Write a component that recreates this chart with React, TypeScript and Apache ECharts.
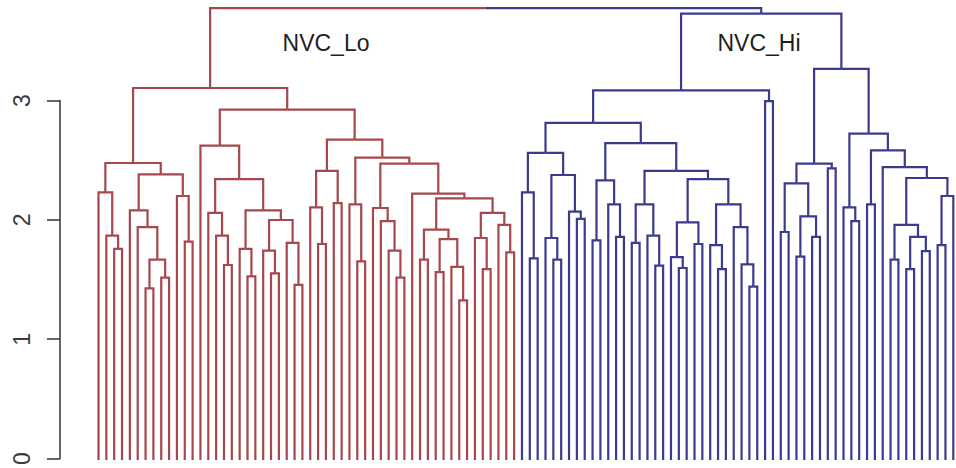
import React, { useEffect, useRef } from "react";
import * as echarts from "echarts";

type Tree = number | [number, Tree, Tree];

// Leaves are numbered 0..109 in plotting order; an internal node is [mergeHeight, left, right].
const loLeftBranch: Tree = [2.475,
  [2.23, 0, [1.87, 1, [1.76, 2, 3]]],
  [2.38,
    [2.08, 4, [1.94, 5, [1.67, [1.43, 6, 7], [1.52, 8, 9]]]],
    [2.2, 10, [1.82, 11, 12]]]];

const loMidBranch: Tree = [2.62, 13,
  [2.34,
    [2.06, 14, [1.87, 15, [1.625, 16, 17]]],
    [2.08,
      [1.76, 18, [1.53, 19, 20]],
      [2.0, [1.745, 21, [1.555, 22, 23]], [1.81, 24, [1.46, 25, 26]]]]]];

const loRightBranch: Tree = [2.67,
  [2.41, [2.105, 27, [1.8, 28, 29]], [2.14, 30, 31]],
  [2.52,
    [2.13, 32, [1.655, 33, 34]],
    [2.47,
      [2.1, 35, [1.99, 36, [1.745, 37, [1.52, 38, 39]]]],
      [2.22, 40,
        [2.18,
          [1.92, [1.67, 41, 42], [1.84, [1.565, 43, 44], [1.61, 45, [1.33, 46, 47]]]],
          [2.06, [1.85, 48, [1.59, 49, 50]], [1.96, 51, [1.73, 52, 53]]]]]]]];

const nvcLo: Tree = [3.1, loLeftBranch, [2.92, loMidBranch, loRightBranch]];

const hiLeftBranch: Tree = [2.81,
  [2.56,
    [2.23, 54, [1.68, 55, 56]],
    [2.375, [1.85, 57, [1.67, 58, 59]], [2.07, 60, [2.01, 61, 62]]]],
  [2.64,
    [2.33, [1.83, 63, 64], [2.13, 65, [1.86, 66, 67]]],
    [2.41,
      [2.13, [1.81, 68, 69], [1.87, 70, [1.62, 71, 72]]],
      [2.34,
        [1.98, [1.69, 73, [1.6, 74, 75]], [1.8, 76, 77]],
        [2.13, [1.79, 78, [1.59, 79, 80]], [1.94, 81, [1.63, 82, [1.445, 83, 84]]]]]]]];

const hiPair: Tree = [2.99, 85, 86];

const hiRightBranch: Tree = [3.26,
  [2.47,
    [2.305, [1.9, 87, 88], [2.03, [1.695, 89, 90], [1.86, 91, 92]]],
    [2.43, 93, 94]],
  [2.72,
    [2.105, 95, [1.99, 96, 97]],
    [2.58,
      [2.13, 98, 99],
      [2.44, 100,
        [2.35,
          [1.96, [1.67, 101, 102], [1.86, [1.59, 103, 104], [1.74, 105, 106]]],
          [2.2, [1.79, 107, 108], 109]]]]]];

const nvcHi: Tree = [3.72, [3.08, hiLeftBranch, hiPair], hiRightBranch];

const rootHeight = 3.765;
const clusterTrees: Tree[] = [nvcLo, nvcHi];
const clusterNames = ["NVC_Lo", "NVC_Hi"];
const yTickValues = [0, 1, 2, 3];

// styles (not data)
const clusterColors = ["#a5474c", "#3a3a8e"];
const labelCenters = [[326, 42.5], [759, 42.5]];

type Arm = [number, number, number, number, number];

function build(node: Tree, cluster: number, arms: Arm[]): { x: number; h: number } {
  if (typeof node === "number") return { x: node, h: 0 };
  const [h, l, r] = node;
  const a = build(l, cluster, arms);
  const b = build(r, cluster, arms);
  const xm = (a.x + b.x) / 2;
  arms.push([a.x, a.h, h, xm, cluster]);
  arms.push([b.x, b.h, h, xm, cluster]);
  return { x: xm, h };
}

function maxLeaf(node: Tree): number {
  if (typeof node === "number") return node;
  return Math.max(maxLeaf(node[1]), maxLeaf(node[2]));
}

export default function App() {
  const ref = useRef<HTMLDivElement>(null);
  useEffect(() => {
    const arms: Arm[] = [];
    const tops = clusterTrees.map((t, i) => build(t, i, arms));
    const xm = (tops[0].x + tops[1].x) / 2;
    tops.forEach((t, i) => arms.push([t.x, t.h, rootHeight, xm, i]));
    const leafCount = Math.max(...clusterTrees.map(maxLeaf)) + 1;

    const chart = echarts.init(ref.current!, null, { renderer: "svg" });
    chart.setOption({
      animation: false,
      backgroundColor: "#ffffff",
      grid: [
        { left: 98.5, width: 854.8, top: 4, height: 456 },
        { left: 60, width: 20, top: 100.5, height: 359.5 },
      ],
      xAxis: [
        { type: "value", gridIndex: 0, min: 0, max: leafCount - 1, show: false },
        { type: "value", gridIndex: 1, min: 0, max: 1, show: false },
      ],
      yAxis: [
        { type: "value", gridIndex: 0, min: 0, max: 3.8, show: false },
        {
          type: "value",
          gridIndex: 1,
          min: yTickValues[0],
          max: yTickValues[yTickValues.length - 1],
          interval: 1,
          axisLine: { show: true, lineStyle: { color: "#333333", width: 1.5 } },
          axisTick: { show: true, length: 13, lineStyle: { color: "#333333", width: 1.5 } },
          splitLine: { show: false },
          axisLabel: {
            rotate: 90,
            fontSize: 23,
            fontFamily: "Liberation Sans",
            color: "#3c3c3c",
            margin: 27,
          },
        },
      ],
      series: [
        {
          type: "custom",
          xAxisIndex: 0,
          yAxisIndex: 0,
          silent: true,
          clip: false,
          data: arms,
          renderItem: (params: any, api: any) => {
            const p0 = api.coord([api.value(0), api.value(1)]);
            const p1 = api.coord([api.value(0), api.value(2)]);
            const p2 = api.coord([api.value(3), api.value(2)]);
            return {
              type: "polyline",
              shape: { points: [p0, p1, p2] },
              style: { stroke: clusterColors[api.value(4)], fill: "none", lineWidth: 2.2 },
            };
          },
        },
      ],
      graphic: clusterNames.map((name, i) => ({
        type: "text",
        x: labelCenters[i][0],
        y: labelCenters[i][1],
        style: {
          text: name,
          font: '23px "Liberation Sans"',
          fill: "#1e1e1e",
          align: "center",
          textAlign: "center",
          verticalAlign: "middle",
          textVerticalAlign: "middle",
        },
      })),
    });
    return () => chart.dispose();
  }, []);
  return (
    <div
      ref={ref}
      style={{ position: "fixed", left: 0, top: 0, width: 956, height: 468, background: "#fff" }}
    />
  );
}
